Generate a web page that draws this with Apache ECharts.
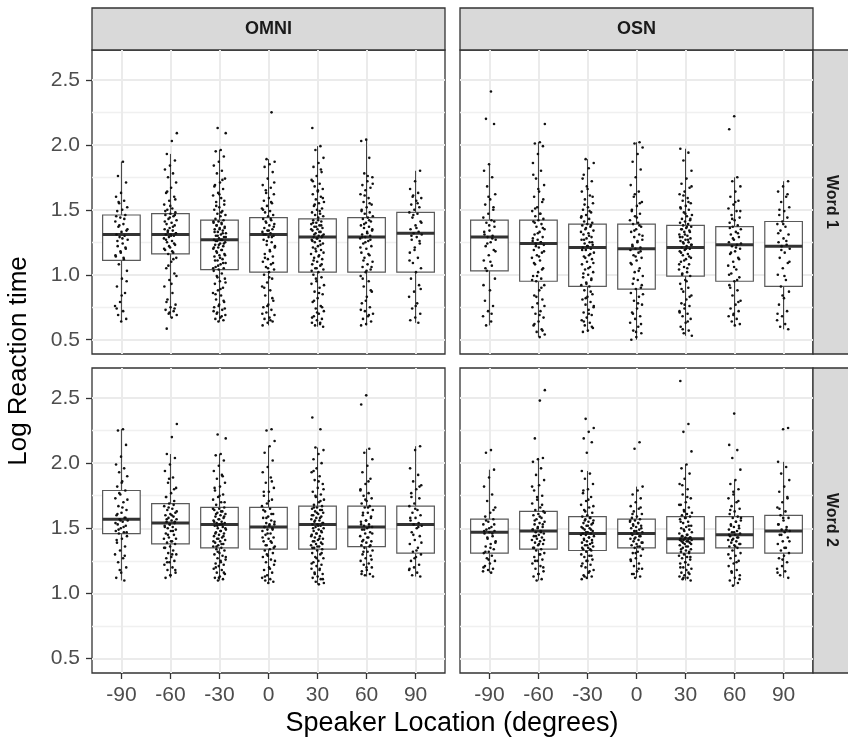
<!DOCTYPE html>
<html><head><meta charset="utf-8">
<script src="https://cdn.jsdelivr.net/npm/echarts@6/dist/echarts.min.js"></script>
<style>html,body{margin:0;padding:0;background:#fff}#c{width:848px;height:740px}</style>
</head><body><div id="c"></div>
<script>
// ---------- data ----------
const locations = [-90, -60, -30, 0, 30, 60, 90];
const columnNames = ['OMNI', 'OSN'];
const rowNames = ['Word 1', 'Word 2'];
const yTicks = [0.5, 1.0, 1.5, 2.0, 2.5];
const yMinorTicks = [0.75, 1.25, 1.75, 2.25];

// box stats per location: [lower whisker, Q1, median, Q3, upper whisker]
const omniWord1Box = [[0.64,1.11,1.31,1.46,1.87],[0.67,1.16,1.31,1.47,1.93],[0.64,1.04,1.27,1.42,1.96],[0.61,1.02,1.31,1.44,1.89],[0.60,1.02,1.29,1.43,1.99],[0.61,1.02,1.29,1.44,2.04],[0.63,1.02,1.32,1.48,1.80]];
const osnWord1Box  = [[0.61,1.03,1.29,1.42,1.85],[0.52,0.95,1.24,1.42,2.02],[0.56,0.91,1.21,1.39,1.89],[0.50,0.89,1.20,1.39,2.02],[0.53,0.99,1.21,1.38,1.97],[0.61,0.95,1.23,1.37,1.75],[0.58,0.91,1.22,1.41,1.72]];
const omniWord2Box = [[1.10,1.46,1.57,1.79,2.26],[1.12,1.38,1.54,1.69,2.07],[1.10,1.35,1.53,1.66,2.07],[1.08,1.34,1.51,1.66,2.13],[1.07,1.34,1.53,1.67,2.12],[1.13,1.36,1.51,1.67,2.11],[1.13,1.31,1.53,1.67,2.13]];
const osnWord2Box  = [[1.16,1.31,1.47,1.57,1.95],[1.10,1.34,1.48,1.63,2.04],[1.11,1.33,1.46,1.59,1.94],[1.12,1.35,1.46,1.57,1.82],[1.10,1.31,1.42,1.59,1.99],[1.06,1.35,1.45,1.59,1.87],[1.12,1.31,1.48,1.60,2.01]];

// observed log reaction times per location (read from the jittered points)
const omniWord1Pts = [
 [1.87,1.76,1.71,1.63,1.60,1.57,1.55,1.52,1.50,1.49,1.46,1.44,1.41,1.39,1.37,1.34,1.33,1.31,1.30,1.29,1.27,1.24,1.22,1.20,1.17,1.14,1.12,1.08,1.03,0.97,0.91,0.86,0.79,0.76,0.72,0.69,0.66,0.64],
 [2.09,2.03,1.93,1.88,1.84,1.81,1.78,1.75,1.71,1.67,1.63,1.60,1.57,1.54,1.51,1.50,1.48,1.47,1.46,1.45,1.43,1.42,1.40,1.39,1.38,1.36,1.35,1.34,1.33,1.32,1.31,1.31,1.30,1.29,1.28,1.26,1.25,1.23,1.21,1.19,1.17,1.16,1.13,1.10,1.05,1.01,0.96,0.91,0.86,0.81,0.77,0.75,0.73,0.72,0.70,0.69,0.67,0.585],
 [2.13,2.09,1.96,1.95,1.91,1.87,1.84,1.80,1.78,1.74,1.71,1.69,1.66,1.63,1.61,1.59,1.56,1.54,1.52,1.50,1.49,1.47,1.46,1.45,1.43,1.42,1.41,1.40,1.39,1.38,1.37,1.36,1.35,1.34,1.33,1.32,1.31,1.30,1.29,1.28,1.27,1.27,1.26,1.25,1.24,1.23,1.22,1.21,1.20,1.19,1.18,1.16,1.15,1.14,1.12,1.11,1.09,1.08,1.06,1.05,1.04,1.03,1.01,0.99,0.97,0.95,0.93,0.90,0.88,0.86,0.84,0.81,0.79,0.77,0.75,0.73,0.71,0.69,0.67,0.66,0.65,0.64],
 [2.25,1.89,1.87,1.85,1.83,1.79,1.74,1.69,1.67,1.65,1.62,1.59,1.57,1.55,1.53,1.51,1.49,1.48,1.46,1.45,1.43,1.42,1.40,1.39,1.38,1.36,1.35,1.34,1.33,1.32,1.31,1.30,1.29,1.27,1.25,1.23,1.21,1.19,1.16,1.14,1.12,1.10,1.08,1.06,1.04,1.02,1.00,0.97,0.94,0.91,0.88,0.84,0.80,0.77,0.75,0.73,0.71,0.69,0.67,0.66,0.64,0.63,0.61],
 [2.13,1.99,1.96,1.90,1.86,1.83,1.79,1.76,1.73,1.70,1.68,1.66,1.64,1.62,1.60,1.58,1.56,1.55,1.53,1.51,1.50,1.48,1.47,1.46,1.45,1.44,1.42,1.41,1.40,1.39,1.38,1.37,1.36,1.35,1.34,1.33,1.32,1.31,1.30,1.29,1.29,1.28,1.27,1.26,1.25,1.24,1.22,1.21,1.19,1.18,1.16,1.15,1.13,1.12,1.10,1.08,1.07,1.05,1.04,1.02,1.00,0.98,0.95,0.93,0.90,0.87,0.85,0.82,0.79,0.76,0.74,0.72,0.70,0.68,0.66,0.65,0.63,0.62,0.61,0.60],
 [2.04,2.03,1.90,1.78,1.75,1.72,1.69,1.67,1.65,1.62,1.59,1.56,1.54,1.52,1.50,1.48,1.47,1.45,1.44,1.43,1.41,1.40,1.38,1.37,1.36,1.34,1.33,1.31,1.30,1.29,1.28,1.26,1.24,1.22,1.20,1.17,1.15,1.13,1.10,1.08,1.06,1.04,1.02,0.99,0.95,0.91,0.87,0.83,0.78,0.75,0.72,0.70,0.68,0.66,0.64,0.62,0.61],
 [1.80,1.72,1.66,1.63,1.61,1.59,1.57,1.54,1.52,1.50,1.48,1.47,1.44,1.41,1.38,1.35,1.33,1.32,1.31,1.29,1.27,1.24,1.21,1.17,1.13,1.09,1.05,1.02,0.97,0.92,0.87,0.83,0.78,0.74,0.70,0.67,0.65,0.63]
];
const omniWord1Extra = [
 [1.45,1.43,1.38,1.35,1.28,1.26,1.21,1.18,1.15,1.13,1.56,0.95,0.84,0.74],
 [1.46,1.44,1.41,1.37,1.34,1.32,1.30,1.27,1.24,1.22,1.20,1.18,1.64,1.58,1.53,1.49,1.12,1.07,0.99,0.93,0.79,0.74,0.71],
 [1.41,1.40,1.38,1.36,1.35,1.33,1.32,1.30,1.29,1.27,1.26,1.24,1.23,1.21,1.19,1.17,1.15,1.13,1.11,1.09,1.07,1.05,1.48,1.53,1.57,1.62,1.68,1.73,0.98,0.94,0.89,0.85,0.80,0.76,0.72,0.68,0.70,0.74],
 [1.43,1.41,1.37,1.34,1.31,1.29,1.26,1.22,1.18,1.13,1.09,1.05,1.50,1.56,1.63,1.71,0.98,0.90,0.82,0.76,0.70,0.65],
 [1.42,1.40,1.38,1.37,1.35,1.33,1.31,1.30,1.28,1.26,1.23,1.20,1.17,1.14,1.11,1.08,1.05,1.03,1.49,1.54,1.59,1.65,1.72,1.81,0.97,0.92,0.86,0.80,0.75,0.71,0.67,0.63],
 [1.42,1.39,1.35,1.32,1.29,1.27,1.25,1.21,1.16,1.11,1.06,1.03,1.49,1.55,1.61,1.70,1.76,0.97,0.88,0.80,0.73,0.69],
 [1.46,1.40,1.36,1.30,1.26,1.19,1.11,1.55,1.60,0.89,0.76]
];
const osnWord1Pts = [
 [2.41,2.20,2.16,1.85,1.80,1.75,1.68,1.62,1.58,1.54,1.50,1.47,1.44,1.42,1.40,1.37,1.34,1.31,1.30,1.29,1.27,1.25,1.22,1.19,1.15,1.11,1.07,1.03,0.97,0.88,0.80,0.76,0.72,0.68,0.64,0.61],
 [2.16,2.02,2.01,1.99,1.93,1.86,1.80,1.74,1.69,1.64,1.60,1.56,1.52,1.49,1.47,1.45,1.43,1.42,1.41,1.39,1.37,1.35,1.33,1.31,1.29,1.27,1.26,1.25,1.24,1.23,1.21,1.19,1.17,1.15,1.13,1.11,1.08,1.05,1.02,0.99,0.97,0.95,0.92,0.88,0.84,0.81,0.78,0.75,0.72,0.70,0.67,0.64,0.61,0.58,0.56,0.54,0.52],
 [1.89,1.86,1.82,1.77,1.72,1.68,1.64,1.61,1.58,1.55,1.52,1.50,1.48,1.46,1.44,1.43,1.41,1.40,1.39,1.38,1.37,1.35,1.34,1.32,1.31,1.29,1.28,1.27,1.25,1.24,1.23,1.22,1.21,1.20,1.19,1.17,1.15,1.14,1.12,1.10,1.08,1.06,1.04,1.02,1.00,0.98,0.96,0.94,0.92,0.91,0.88,0.85,0.83,0.81,0.79,0.77,0.75,0.73,0.71,0.69,0.67,0.65,0.63,0.61,0.59,0.57,0.56],
 [2.02,2.01,1.98,1.93,1.87,1.81,1.75,1.69,1.64,1.60,1.56,1.53,1.50,1.47,1.45,1.42,1.40,1.39,1.37,1.35,1.33,1.31,1.29,1.27,1.25,1.23,1.21,1.20,1.19,1.17,1.15,1.13,1.11,1.08,1.05,1.02,0.99,0.96,0.93,0.90,0.89,0.86,0.83,0.80,0.77,0.74,0.71,0.68,0.66,0.63,0.60,0.57,0.55,0.52,0.50],
 [1.97,1.94,1.88,1.80,1.74,1.70,1.67,1.64,1.62,1.59,1.57,1.55,1.53,1.51,1.50,1.48,1.46,1.45,1.43,1.42,1.41,1.40,1.39,1.38,1.37,1.36,1.35,1.34,1.33,1.31,1.30,1.29,1.28,1.27,1.26,1.25,1.24,1.23,1.22,1.21,1.20,1.19,1.18,1.16,1.15,1.13,1.12,1.10,1.08,1.06,1.04,1.02,1.00,0.99,0.96,0.93,0.90,0.87,0.84,0.81,0.78,0.76,0.74,0.72,0.70,0.68,0.66,0.63,0.60,0.57,0.55,0.53],
 [2.22,2.12,1.75,1.72,1.68,1.64,1.60,1.57,1.54,1.51,1.49,1.46,1.44,1.42,1.40,1.38,1.37,1.35,1.33,1.31,1.29,1.27,1.25,1.23,1.22,1.20,1.18,1.16,1.13,1.10,1.07,1.04,1.01,0.98,0.95,0.92,0.88,0.84,0.80,0.77,0.74,0.72,0.70,0.68,0.66,0.64,0.62,0.61],
 [1.72,1.68,1.64,1.60,1.56,1.52,1.49,1.46,1.44,1.41,1.39,1.37,1.34,1.31,1.28,1.25,1.23,1.22,1.20,1.17,1.13,1.09,1.05,1.00,0.96,0.91,0.87,0.82,0.77,0.72,0.68,0.65,0.62,0.60,0.58]
];
const osnWord1Extra = [
 [1.41,1.38,1.33,1.28,1.24,1.18,1.10,1.05,1.52,1.60,0.92,0.70],
 [1.40,1.36,1.32,1.28,1.25,1.22,1.18,1.14,1.09,1.04,0.99,0.96,1.47,1.51,1.58,1.66,1.77,0.90,0.83,0.76,0.69,0.62,0.57],
 [1.38,1.36,1.33,1.30,1.27,1.25,1.22,1.19,1.16,1.13,1.09,1.05,1.01,0.97,0.93,1.45,1.49,1.54,1.60,1.66,1.74,0.87,0.82,0.76,0.70,0.64,0.60],
 [1.38,1.34,1.30,1.26,1.22,1.18,1.14,1.09,1.03,0.97,0.92,1.44,1.49,1.55,1.62,0.85,0.78,0.70,0.62,0.56],
 [1.37,1.35,1.33,1.31,1.29,1.27,1.25,1.23,1.20,1.17,1.14,1.11,1.08,1.05,1.01,1.43,1.47,1.52,1.56,1.61,1.68,0.95,0.89,0.83,0.77,0.71,0.64,0.58],
 [1.36,1.32,1.28,1.24,1.21,1.17,1.12,1.06,1.00,0.96,1.43,1.49,1.56,0.90,0.79,0.69],
 [1.39,1.32,1.26,1.19,1.10,0.99,1.50,1.62,0.84,0.70]
];
const omniWord2Pts = [
 [2.26,2.25,2.14,2.05,1.99,1.96,1.93,1.90,1.86,1.82,1.79,1.76,1.73,1.70,1.67,1.64,1.62,1.60,1.58,1.57,1.56,1.55,1.53,1.52,1.50,1.48,1.47,1.46,1.44,1.42,1.39,1.36,1.33,1.30,1.27,1.24,1.20,1.16,1.12,1.10],
 [2.30,2.20,2.07,2.04,1.99,1.94,1.89,1.85,1.81,1.77,1.74,1.71,1.69,1.67,1.65,1.64,1.62,1.61,1.60,1.59,1.58,1.57,1.56,1.55,1.54,1.53,1.52,1.51,1.50,1.49,1.48,1.46,1.45,1.43,1.42,1.40,1.39,1.38,1.36,1.35,1.33,1.31,1.30,1.28,1.27,1.25,1.24,1.22,1.20,1.18,1.16,1.14,1.12],
 [2.22,2.19,2.07,2.06,2.02,1.98,1.94,1.91,1.88,1.85,1.82,1.79,1.76,1.74,1.72,1.70,1.68,1.66,1.65,1.64,1.63,1.62,1.61,1.60,1.59,1.58,1.57,1.56,1.55,1.54,1.54,1.53,1.52,1.51,1.50,1.49,1.48,1.47,1.46,1.45,1.44,1.43,1.42,1.41,1.40,1.39,1.38,1.37,1.36,1.35,1.34,1.33,1.31,1.30,1.29,1.27,1.26,1.25,1.23,1.22,1.21,1.19,1.18,1.16,1.15,1.13,1.12,1.11,1.10],
 [2.26,2.25,2.17,2.13,2.08,2.02,1.97,1.93,1.89,1.85,1.81,1.78,1.75,1.72,1.69,1.67,1.65,1.63,1.61,1.59,1.58,1.56,1.54,1.53,1.52,1.51,1.50,1.49,1.48,1.46,1.45,1.43,1.42,1.40,1.39,1.37,1.36,1.34,1.33,1.31,1.29,1.28,1.26,1.24,1.22,1.20,1.18,1.16,1.14,1.12,1.11,1.10,1.09,1.08],
 [2.35,2.26,2.12,2.10,2.07,2.03,2.00,1.96,1.93,1.90,1.87,1.84,1.81,1.78,1.76,1.74,1.72,1.70,1.68,1.67,1.66,1.65,1.64,1.63,1.62,1.61,1.60,1.59,1.58,1.57,1.56,1.55,1.54,1.53,1.53,1.52,1.51,1.50,1.49,1.48,1.47,1.46,1.45,1.44,1.43,1.42,1.41,1.40,1.39,1.38,1.37,1.36,1.35,1.34,1.33,1.31,1.30,1.28,1.27,1.25,1.24,1.22,1.21,1.19,1.18,1.16,1.15,1.13,1.12,1.11,1.09,1.08,1.07],
 [2.52,2.45,2.11,2.08,2.03,1.98,1.93,1.88,1.84,1.80,1.77,1.75,1.73,1.71,1.69,1.67,1.66,1.64,1.62,1.60,1.58,1.56,1.55,1.53,1.52,1.51,1.50,1.49,1.47,1.46,1.44,1.43,1.41,1.40,1.39,1.37,1.36,1.35,1.33,1.32,1.30,1.29,1.27,1.25,1.23,1.22,1.20,1.18,1.17,1.15,1.14,1.13],
 [2.13,2.10,1.96,1.91,1.86,1.83,1.80,1.77,1.73,1.69,1.67,1.64,1.62,1.60,1.58,1.56,1.54,1.53,1.52,1.50,1.47,1.44,1.41,1.38,1.35,1.32,1.30,1.28,1.25,1.22,1.20,1.18,1.16,1.14,1.13]
];
const omniWord2Extra = [
 [1.77,1.72,1.66,1.61,1.58,1.56,1.54,1.51,1.49,1.47,1.85,1.41,1.29,1.18],
 [1.68,1.66,1.63,1.60,1.57,1.55,1.53,1.51,1.48,1.45,1.42,1.40,1.74,1.80,1.88,1.35,1.30,1.24,1.18,1.14],
 [1.65,1.63,1.61,1.59,1.57,1.55,1.53,1.52,1.50,1.48,1.46,1.44,1.42,1.40,1.38,1.36,1.70,1.75,1.81,1.90,1.32,1.28,1.24,1.20,1.16,1.12],
 [1.64,1.61,1.58,1.55,1.53,1.51,1.49,1.46,1.43,1.40,1.37,1.35,1.71,1.78,1.86,1.30,1.25,1.19,1.13],
 [1.66,1.64,1.62,1.60,1.58,1.56,1.54,1.52,1.50,1.48,1.46,1.44,1.42,1.40,1.38,1.36,1.35,1.71,1.75,1.80,1.86,1.94,1.31,1.27,1.23,1.19,1.15,1.11],
 [1.66,1.62,1.59,1.56,1.53,1.51,1.49,1.46,1.43,1.40,1.37,1.72,1.79,1.86,1.32,1.26,1.20,1.15],
 [1.65,1.58,1.51,1.45,1.39,1.33,1.74,1.82,1.27,1.19]
];
const osnWord2Pts = [
 [2.10,2.08,1.95,1.89,1.82,1.76,1.71,1.66,1.62,1.59,1.57,1.55,1.53,1.51,1.49,1.48,1.47,1.46,1.44,1.42,1.40,1.38,1.36,1.34,1.32,1.31,1.29,1.27,1.25,1.23,1.21,1.19,1.18,1.17,1.16],
 [2.56,2.48,2.19,2.04,2.03,2.01,1.96,1.91,1.87,1.83,1.79,1.75,1.72,1.69,1.66,1.64,1.63,1.61,1.60,1.58,1.57,1.55,1.54,1.53,1.51,1.50,1.49,1.48,1.47,1.46,1.45,1.44,1.43,1.42,1.41,1.40,1.39,1.38,1.37,1.35,1.34,1.33,1.31,1.30,1.28,1.26,1.25,1.23,1.21,1.19,1.17,1.15,1.13,1.11,1.10],
 [2.34,2.27,2.24,2.19,2.16,2.08,1.94,1.92,1.88,1.84,1.80,1.77,1.74,1.71,1.68,1.66,1.64,1.62,1.60,1.59,1.58,1.57,1.56,1.55,1.54,1.53,1.52,1.51,1.50,1.49,1.48,1.47,1.46,1.46,1.45,1.44,1.43,1.42,1.41,1.40,1.39,1.38,1.37,1.36,1.35,1.34,1.33,1.32,1.30,1.29,1.28,1.26,1.25,1.23,1.22,1.20,1.18,1.16,1.14,1.13,1.12,1.11],
 [2.16,2.11,1.82,1.79,1.76,1.73,1.70,1.67,1.65,1.63,1.61,1.59,1.58,1.57,1.56,1.55,1.54,1.53,1.52,1.51,1.50,1.49,1.48,1.47,1.46,1.45,1.44,1.43,1.42,1.41,1.40,1.39,1.38,1.37,1.36,1.35,1.34,1.32,1.31,1.29,1.27,1.25,1.23,1.21,1.19,1.17,1.15,1.13,1.12],
 [2.63,2.30,2.24,2.09,1.99,1.96,1.92,1.88,1.84,1.80,1.76,1.73,1.70,1.68,1.66,1.64,1.62,1.61,1.60,1.59,1.58,1.57,1.55,1.54,1.52,1.51,1.50,1.49,1.48,1.46,1.45,1.44,1.43,1.43,1.42,1.42,1.41,1.41,1.40,1.40,1.39,1.38,1.37,1.36,1.35,1.34,1.33,1.32,1.31,1.30,1.29,1.28,1.27,1.26,1.24,1.23,1.22,1.20,1.19,1.18,1.16,1.15,1.14,1.13,1.12,1.11,1.10],
 [2.38,2.14,2.10,2.04,1.95,1.87,1.84,1.80,1.76,1.73,1.70,1.67,1.65,1.63,1.61,1.59,1.58,1.56,1.55,1.53,1.52,1.51,1.49,1.48,1.47,1.46,1.45,1.44,1.43,1.42,1.41,1.40,1.39,1.38,1.37,1.36,1.35,1.33,1.31,1.29,1.27,1.25,1.23,1.21,1.18,1.16,1.14,1.12,1.10,1.08,1.06],
 [2.27,2.26,2.01,1.97,1.92,1.87,1.82,1.78,1.74,1.70,1.66,1.63,1.60,1.58,1.56,1.53,1.51,1.49,1.48,1.47,1.45,1.43,1.40,1.38,1.35,1.33,1.31,1.29,1.27,1.24,1.21,1.19,1.17,1.14,1.12]
];
const osnWord2Extra = [
 [1.56,1.53,1.50,1.48,1.46,1.43,1.39,1.35,1.32,1.64,1.26,1.20],
 [1.62,1.59,1.56,1.53,1.51,1.49,1.47,1.44,1.41,1.38,1.35,1.68,1.74,1.82,1.30,1.25,1.20,1.15],
 [1.58,1.56,1.54,1.52,1.50,1.49,1.47,1.45,1.43,1.41,1.39,1.37,1.35,1.34,1.63,1.67,1.72,1.79,1.29,1.25,1.21,1.17,1.13],
 [1.56,1.54,1.52,1.50,1.48,1.46,1.44,1.42,1.39,1.36,1.61,1.66,1.31,1.26,1.19,1.15],
 [1.58,1.55,1.52,1.49,1.47,1.45,1.44,1.43,1.42,1.41,1.40,1.39,1.38,1.36,1.34,1.32,1.63,1.68,1.74,1.83,1.28,1.24,1.20,1.16,1.12],
 [1.58,1.55,1.52,1.50,1.47,1.45,1.43,1.41,1.38,1.36,1.64,1.71,1.78,1.30,1.24,1.17,1.11],
 [1.58,1.53,1.49,1.45,1.40,1.35,1.65,1.73,1.26,1.16]
];

// ---------- layout / style ----------
const FONT = '"Liberation Sans", Arial, Helvetica, sans-serif';
const panels = [
  {box: omniWord1Box, pts: omniWord1Pts, extra: omniWord1Extra, grid: {left: 92,  top: 50,  width: 353, height: 304}, bottom: false, left: true},
  {box: osnWord1Box,  pts: osnWord1Pts,  extra: osnWord1Extra,  grid: {left: 460, top: 50,  width: 353, height: 304}, bottom: false, left: false},
  {box: omniWord2Box, pts: omniWord2Pts, extra: omniWord2Extra, grid: {left: 92,  top: 368, width: 353, height: 305}, bottom: true,  left: true},
  {box: osnWord2Box,  pts: osnWord2Pts,  extra: osnWord2Extra,  grid: {left: 460, top: 368, width: 353, height: 305}, bottom: true,  left: false}
];
const BOX_W = 23;      // box width in axis units (degrees)
const JITTER = 4;      // half-width of the horizontal jitter (degrees)
function jitter(j, k) {
  const f = ((j + 1) * 0.6180339887 + k * 0.371) % 1;
  return (f - 0.5) * 2 * JITTER;
}

function renderBox(params, api) {
  const x = api.value(0);
  const lo = api.coord([x, api.value(1)]);
  const q1 = api.coord([x, api.value(2)]);
  const md = api.coord([x, api.value(3)]);
  const q3 = api.coord([x, api.value(4)]);
  const hi = api.coord([x, api.value(5)]);
  const w = api.size([BOX_W, 0])[0];
  const ws = {stroke: '#3a3a3a', lineWidth: 1};
  return {type: 'group', children: [
    {type: 'line', shape: {x1: hi[0], y1: hi[1], x2: q3[0], y2: q3[1]}, style: ws},
    {type: 'line', shape: {x1: q1[0], y1: q1[1], x2: lo[0], y2: lo[1]}, style: ws},
    {type: 'rect', shape: {x: q3[0] - w / 2, y: q3[1], width: w, height: q1[1] - q3[1]}, style: {fill: '#ffffff', stroke: '#5a5a5a', lineWidth: 1.2}},
    {type: 'line', shape: {x1: md[0] - w / 2, y1: md[1], x2: md[0] + w / 2, y2: md[1]}, style: {stroke: '#333333', lineWidth: 3}}
  ]};
}

const grid = [], xAxis = [], yAxis = [], series = [];
panels.forEach((p, i) => {
  grid.push(Object.assign({show: true, backgroundColor: '#ffffff', borderColor: '#333333', borderWidth: 1.3, outerBoundsMode: 'none', containLabel: false}, p.grid));
  xAxis.push({
    gridIndex: i, type: 'value', min: -108, max: 108, position: 'bottom',
    axisLine: {show: false, onZero: false},
    axisTick: {show: p.bottom, customValues: locations, length: 6, lineStyle: {color: '#333333', width: 1.3}},
    axisLabel: {show: p.bottom, customValues: locations, color: '#4d4d4d', fontSize: 21, fontFamily: FONT, margin: 12},
    splitLine: {show: true, lineStyle: {color: '#ebebeb', width: 2}}
  });
  yAxis.push({
    gridIndex: i, type: 'value', min: 0.39, max: 2.73, position: 'left',
    axisLine: {show: false, onZero: false},
    axisTick: {show: p.left, customValues: yTicks, length: 6, lineStyle: {color: '#333333', width: 1.3}},
    axisLabel: {show: p.left, customValues: yTicks, formatter: v => v.toFixed(1), color: '#4d4d4d', fontSize: 21, fontFamily: FONT, margin: 12},
    splitLine: {show: true, lineStyle: {color: '#ebebeb', width: 2}}
  });
  yAxis.push({
    gridIndex: i, type: 'value', min: 0.39, max: 2.73, position: 'right',
    axisLine: {show: false, onZero: false},
    axisTick: {show: false, customValues: yMinorTicks},
    axisLabel: {show: false},
    splitLine: {show: true, lineStyle: {color: '#f0f0f0', width: 1.3}}
  });
  series.push({
    type: 'custom', xAxisIndex: i, yAxisIndex: 2 * i, renderItem: renderBox, z: 2,
    encode: {x: 0, y: [1, 2, 3, 4, 5]},
    data: locations.map((loc, k) => [loc].concat(p.box[k]))
  });
  const pts = [];
  locations.forEach((loc, k) => {
    p.pts[k].concat(p.extra[k]).forEach((v, j) => pts.push([loc + jitter(j, k), v]));
  });
  series.push({
    type: 'scatter', xAxisIndex: i, yAxisIndex: 2 * i, z: 3,
    symbol: 'circle', symbolSize: 2.6, silent: true,
    itemStyle: {color: '#111111', opacity: 1},
    data: pts
  });
});

const stripStyle = {fill: '#d9d9d9', stroke: '#333333', lineWidth: 1.3};
const graphic = [
  {type: 'rect', shape: {x: 92, y: 8, width: 353, height: 42}, style: stripStyle},
  {type: 'rect', shape: {x: 460, y: 8, width: 353, height: 42}, style: stripStyle},
  {type: 'rect', shape: {x: 813, y: 50, width: 40, height: 304}, style: stripStyle},
  {type: 'rect', shape: {x: 813, y: 368, width: 40, height: 305}, style: stripStyle},
  {type: 'text', x: 268.5, y: 29, style: {text: columnNames[0], font: 'bold 18px ' + FONT, fill: '#1a1a1a', align: 'center', verticalAlign: 'middle'}},
  {type: 'text', x: 636.5, y: 29, style: {text: columnNames[1], font: 'bold 18px ' + FONT, fill: '#1a1a1a', align: 'center', verticalAlign: 'middle'}},
  {type: 'text', x: 831, y: 202, rotation: -Math.PI / 2, style: {text: rowNames[0], font: 'bold 16px ' + FONT, fill: '#1a1a1a', align: 'center', verticalAlign: 'middle'}},
  {type: 'text', x: 831, y: 520, rotation: -Math.PI / 2, style: {text: rowNames[1], font: 'bold 16px ' + FONT, fill: '#1a1a1a', align: 'center', verticalAlign: 'middle'}},
  {type: 'text', x: 452, y: 724, style: {text: 'Speaker Location (degrees)', font: '27px ' + FONT, fill: '#000000', align: 'center', verticalAlign: 'middle'}},
  {type: 'text', x: 19, y: 361, rotation: Math.PI / 2, style: {text: 'Log Reaction time', font: '26px ' + FONT, fill: '#000000', align: 'center', verticalAlign: 'middle'}}
];

const chart = echarts.init(document.getElementById('c'), null, {renderer: 'canvas'});
chart.setOption({
  animation: false,
  backgroundColor: '#ffffff',
  grid, xAxis, yAxis, series, graphic
});
</script>
</body></html>
